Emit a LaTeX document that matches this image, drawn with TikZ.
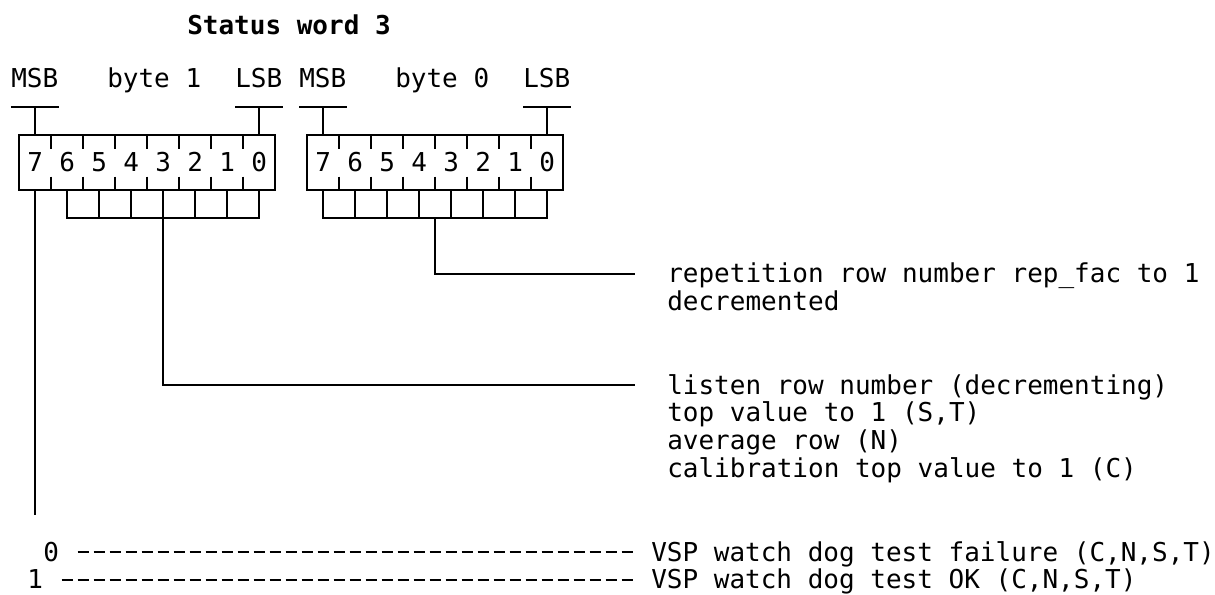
\documentclass[tikz,border=0pt]{standalone}
\usepackage{fontspec}
\newfontfamily\regmono{DejaVu Sans Mono}
\tikzset{
    regtxt/.style={font=\regmono\fontsize{19.5pt}{20.87pt}\selectfont, inner sep=0pt, anchor=base west, text height=16pt, text depth=2.8pt},
    regttl/.style={regtxt, font=\regmono\bfseries\fontsize{19.5pt}{20.87pt}\selectfont},
    regline/.style={line width=1.5pt, black},
    dashrow/.style={line width=1.8pt, dash pattern=on 8.25pt off 3.75pt}
}
\begin{document}
\begin{tikzpicture}[x=12pt, y=-20.8725pt, line join=miter]
        \useasboundingbox (-0.6875,-0.8444) rectangle (75.25,20.5);
        \pgfmathsetmacro{\bl}{0.316}
        \node[regttl] (title) at (11,0.413) {Status word 3};
        \node[regtxt] (msbA)  at (0,{2+\bl})  {MSB};
        \node[regtxt] (byteA) at (6,{2+\bl})  {byte 1};
        \node[regtxt] (lsbA)  at (14,{2+\bl}) {LSB};
        \node[regtxt] (msbB)  at (18,{2+\bl}) {MSB};
        \node[regtxt] (byteB) at (24,{2+\bl}) {byte 0};
        \node[regtxt] (lsbB)  at (32,{2+\bl}) {LSB};
        \foreach \bx/\lab in {0/A, 18/B} {
            \draw[regline] (\bx,3) -- (\bx+3,3);
            \draw[regline] (\bx+1.5,3) -- (\bx+1.5,4);
            \draw[regline] (\bx+14,3) -- (\bx+17,3);
            \draw[regline] (\bx+15.5,3) -- (\bx+15.5,4);
            \draw[regline] (\bx+0.5,4) rectangle (\bx+16.5,6);
            \foreach \k in {2,4,...,14} {
                \draw[regline] (\bx+\k+0.5,4) -- (\bx+\k+0.5,4.5);
                \draw[regline] (\bx+\k+0.5,5.5) -- (\bx+\k+0.5,6);
            }
            \foreach \b in {0,...,7} {
                \pgfmathtruncatemacro{\c}{\bx+1+2*(7-\b)}
                \node[regtxt] (b\lab\b) at (\c,{5+\bl}) {\b};
            }
        }
        \draw[regline] (3.5,6) -- (3.5,7) -- (15.5,7) -- (15.5,6);
        \foreach \c in {5.5,7.5,...,13.5} { \draw[regline] (\c,6) -- (\c,7); }
        \draw[regline] (19.5,6) -- (19.5,7) -- (33.5,7) -- (33.5,6);
        \foreach \c in {21.5,23.5,...,31.5} { \draw[regline] (\c,6) -- (\c,7); }
        \coordinate (brA) at (9.5,7);
        \coordinate (brB) at (26.5,7);
        \coordinate (msbend) at (1.5,17.65);
        \node[regtxt] (rep1) at (41,{9+\bl})  {repetition row number rep\symbol{95}fac to 1};
        \node[regtxt] (rep2) at (41,{10+\bl}) {decremented};
        \node[regtxt] (lis1) at (41,{13+\bl}) {listen row number (decrementing)};
        \node[regtxt] (lis2) at (41,{14+\bl}) {top value to 1 (S,T)};
        \node[regtxt] (lis3) at (41,{15+\bl}) {average row (N)};
        \node[regtxt] (lis4) at (41,{16+\bl}) {calibration top value to 1 (C)};
        \draw[regline] (1.5,6) -- (msbend);
        \draw[regline] (brB) |- ([xshift=-24pt]rep1.west);
        \draw[regline] (brA) |- ([xshift=-24pt]lis1.west);
        \node[regtxt] (zero) at (2,{19+\bl}) {0};
        \node[regtxt] (one)  at (1,{20+\bl}) {1};
        \node[regtxt] (vspA) at (40,{19+\bl}) {VSP watch dog test failure (C,N,S,T)};
        \node[regtxt] (vspB) at (40,{20+\bl}) {VSP watch dog test OK (C,N,S,T)};
        \draw[dashrow] ([xshift=13.875pt]zero.east) -- ([xshift=-13.875pt]vspA.west);
        \draw[dashrow] ([xshift=13.875pt]one.east) -- ([xshift=-13.875pt]vspB.west);
\end{tikzpicture}
\end{document}
